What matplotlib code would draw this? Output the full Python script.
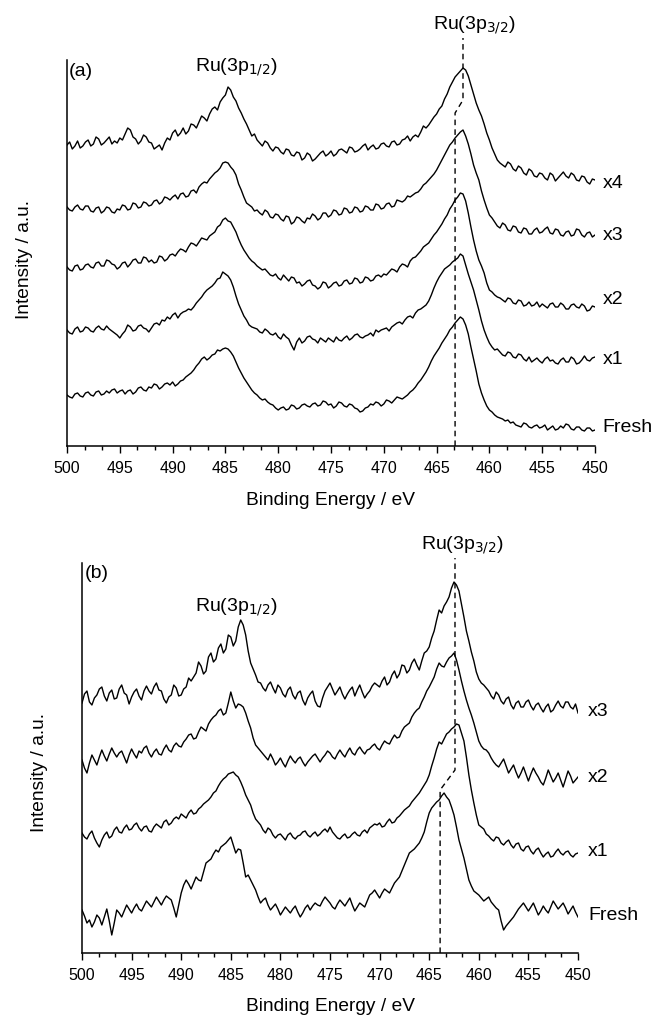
import numpy as np
import matplotlib
matplotlib.use("Agg")
import matplotlib.pyplot as plt
from matplotlib.ticker import MultipleLocator, AutoMinorLocator

plt.rcParams['font.family'] = ['Liberation Sans', 'DejaVu Sans']

# Binding energy grid (eV), 0.25 eV steps from 500 down to 450
energy = [500 - 0.25 * i for i in range(201)]

# ---------------- Panel (a): stacked spectra (a.u.) ----------------
a_x4 = [301, 304, 297, 300, 305, 298, 300, 304, 306, 300, 302, 309, 307, 301, 303, 306, 309, 302, 305, 303,
        308, 306, 312, 318, 316, 309, 307, 302, 305, 311, 309, 304, 303, 297, 299, 301, 296, 303, 308, 306,
        313, 316, 310, 313, 318, 312, 315, 322, 321, 318, 324, 330, 328, 325, 332, 337, 339, 336, 344, 348,
        351, 359, 356, 349, 345, 338, 333, 327, 322, 316, 310, 312, 306, 303, 300, 305, 303, 298, 295, 299,
        298, 294, 292, 297, 296, 291, 290, 294, 293, 286, 288, 293, 291, 285, 287, 290, 293, 295, 290, 292,
        295, 290, 292, 296, 297, 295, 293, 299, 298, 294, 295, 297, 300, 302, 296, 299, 301, 297, 298, 302,
        303, 300, 299, 304, 305, 301, 302, 306, 307, 310, 305, 309, 311, 309, 314, 320, 318, 321, 325, 329,
        332, 337, 340, 347, 352, 359, 364, 369, 372, 375, 378, 376, 370, 361, 352, 343, 336, 330, 322, 313,
        306, 298, 292, 286, 283, 281, 279, 284, 282, 277, 275, 280, 278, 273, 271, 277, 275, 270, 269, 273,
        272, 268, 266, 273, 271, 265, 268, 271, 274, 270, 268, 273, 271, 266, 265, 270, 269, 264, 262, 267,
        266]
a_x3 = [239, 236, 235, 239, 241, 237, 236, 240, 240, 235, 234, 238, 239, 233, 235, 239, 238, 234, 233, 237,
        236, 241, 240, 236, 237, 243, 242, 238, 239, 244, 243, 240, 241, 245, 246, 242, 244, 249, 248, 246,
        249, 251, 247, 252, 253, 249, 250, 255, 256, 253, 259, 262, 264, 263, 267, 270, 273, 275, 278, 283,
        284, 283, 279, 276, 271, 262, 256, 249, 243, 241, 239, 235, 236, 233, 231, 236, 234, 229, 228, 232,
        231, 227, 225, 230, 229, 222, 224, 229, 228, 225, 223, 228, 227, 232, 230, 226, 228, 233, 233, 229,
        231, 236, 235, 231, 232, 238, 237, 233, 234, 239, 238, 234, 235, 240, 239, 236, 236, 242, 241, 237,
        238, 242, 243, 239, 240, 246, 245, 244, 246, 250, 249, 251, 253, 254, 257, 261, 263, 266, 269, 272,
        276, 281, 286, 291, 296, 301, 304, 308, 311, 314, 316, 310, 302, 292, 281, 273, 266, 255, 246, 238,
        231, 228, 224, 220, 218, 223, 221, 216, 215, 220, 219, 214, 213, 218, 217, 212, 212, 216, 218, 213,
        214, 217, 219, 213, 212, 217, 216, 211, 210, 214, 215, 210, 211, 217, 216, 211, 209, 213, 214, 209,
        211]
a_x2 = [179, 176, 175, 180, 181, 176, 177, 181, 182, 179, 178, 183, 184, 180, 180, 186, 185, 182, 181, 177,
        179, 183, 184, 179, 182, 186, 187, 183, 183, 189, 188, 184, 186, 183, 184, 190, 189, 185, 187, 191,
        192, 190, 194, 197, 196, 194, 199, 203, 202, 200, 204, 208, 207, 206, 210, 212, 214, 219, 221, 226,
        228, 225, 224, 219, 214, 207, 201, 196, 192, 188, 185, 183, 180, 178, 176, 177, 174, 171, 170, 172,
        168, 166, 171, 168, 165, 169, 168, 163, 164, 160, 162, 165, 166, 161, 160, 157, 159, 164, 163, 158,
        160, 163, 164, 160, 161, 165, 166, 162, 163, 168, 167, 163, 164, 169, 168, 165, 166, 170, 171, 169,
        172, 171, 174, 177, 176, 174, 179, 182, 181, 179, 185, 188, 189, 192, 195, 199, 201, 203, 207, 211,
        214, 218, 222, 227, 231, 237, 241, 246, 249, 253, 252, 245, 233, 219, 206, 195, 186, 180, 173, 163,
        156, 154, 151, 149, 148, 146, 144, 148, 147, 143, 142, 146, 145, 140, 141, 144, 140, 141, 144, 139,
        142, 140, 138, 142, 143, 139, 139, 143, 141, 137, 137, 141, 142, 139, 138, 142, 140, 135, 136, 140,
        139]
a_x1 = [116, 113, 112, 117, 119, 114, 115, 119, 118, 115, 114, 118, 120, 117, 116, 120, 117, 115, 113, 111,
        108, 112, 115, 121, 119, 115, 116, 120, 121, 118, 117, 114, 118, 122, 123, 121, 126, 125, 129, 127,
        131, 133, 128, 132, 134, 135, 137, 136, 139, 143, 146, 149, 153, 156, 158, 160, 163, 167, 168, 174,
        172, 170, 166, 159, 150, 142, 136, 130, 126, 121, 119, 118, 117, 114, 113, 117, 115, 112, 111, 113,
        109, 107, 112, 109, 107, 101, 96, 104, 108, 103, 105, 109, 110, 107, 106, 103, 108, 106, 104, 108,
        106, 104, 109, 106, 105, 108, 110, 106, 108, 111, 112, 109, 108, 110, 111, 113, 110, 116, 114, 116,
        117, 118, 115, 119, 121, 123, 124, 122, 126, 129, 130, 128, 133, 136, 137, 139, 141, 145, 151, 158,
        164, 169, 173, 177, 179, 181, 184, 186, 188, 192, 190, 181, 172, 164, 156, 146, 136, 125, 116, 109,
        103, 99, 96, 97, 94, 91, 90, 94, 93, 89, 88, 92, 91, 87, 85, 89, 84, 86, 88, 85,
        83, 87, 89, 85, 86, 83, 82, 86, 88, 84, 84, 89, 87, 82, 83, 86, 90, 86, 85, 88,
        89]
a_fresh = [51, 49, 48, 52, 53, 50, 49, 53, 54, 51, 50, 54, 55, 51, 52, 55, 53, 56, 57, 53,
           55, 56, 52, 55, 56, 52, 54, 58, 59, 56, 55, 59, 58, 62, 61, 57, 59, 62, 63, 61,
           64, 60, 62, 65, 66, 69, 71, 73, 76, 80, 83, 87, 89, 86, 88, 91, 92, 96, 95, 97,
           98, 97, 94, 90, 84, 78, 73, 68, 64, 60, 56, 53, 51, 48, 46, 47, 44, 42, 41, 38,
           36, 38, 39, 36, 37, 41, 40, 37, 38, 41, 42, 40, 39, 42, 43, 40, 41, 45, 44, 41,
           42, 38, 40, 44, 43, 40, 39, 42, 41, 38, 37, 34, 35, 38, 39, 42, 41, 44, 43, 40,
           42, 46, 45, 43, 46, 49, 48, 47, 49, 51, 54, 56, 59, 63, 66, 70, 74, 79, 85, 90,
           94, 98, 103, 107, 111, 116, 119, 123, 126, 129, 127, 121, 112, 99, 87, 75, 62, 53, 46, 40,
           36, 34, 31, 29, 28, 27, 25, 26, 23, 24, 21, 20, 19, 23, 22, 19, 18, 20, 21, 18,
           19, 21, 16, 18, 20, 16, 17, 20, 18, 22, 21, 17, 16, 19, 19, 16, 15, 18, 18, 15,
           16]

# ---------------- Panel (b) ----------------
b_x3 = [250, 259, 262, 251, 248, 255, 258, 264, 266, 257, 252, 260, 263, 254, 255, 264, 268, 260, 258, 249,
        256, 261, 264, 257, 253, 262, 267, 262, 259, 266, 270, 263, 262, 254, 250, 256, 258, 268, 265, 257,
        258, 264, 266, 275, 272, 276, 280, 291, 287, 279, 282, 296, 300, 291, 294, 305, 309, 300, 304, 318,
        316, 307, 312, 326, 333, 328, 318, 302, 290, 284, 278, 271, 270, 265, 262, 268, 271, 265, 260, 268,
        265, 259, 256, 263, 266, 258, 254, 260, 262, 253, 248, 255, 259, 262, 252, 247, 246, 255, 262, 266,
        270, 264, 258, 262, 266, 259, 254, 259, 263, 266, 257, 263, 268, 261, 255, 259, 262, 267, 270, 268,
        266, 272, 276, 268, 271, 278, 282, 275, 279, 288, 287, 280, 283, 290, 294, 288, 283, 292, 300, 302,
        306, 315, 322, 333, 343, 340, 347, 351, 356, 365, 371, 368, 362, 349, 336, 322, 312, 301, 292, 281,
        274, 270, 268, 265, 262, 257, 254, 261, 258, 252, 249, 254, 256, 248, 244, 250, 252, 246, 246, 251,
        253, 247, 243, 248, 250, 245, 241, 246, 249, 241, 243, 248, 252, 247, 245, 251, 251, 246, 244, 249,
        240]
b_x2 = [193, 185, 180, 190, 198, 193, 188, 196, 203, 197, 192, 199, 205, 200, 196, 200, 202, 196, 190, 198,
        204, 199, 195, 202, 200, 205, 207, 200, 196, 201, 204, 199, 198, 204, 208, 203, 201, 207, 210, 207,
        206, 211, 214, 218, 219, 214, 215, 221, 226, 224, 222, 229, 233, 236, 238, 242, 244, 238, 240, 250,
        261, 252, 245, 249, 248, 246, 240, 232, 225, 215, 208, 205, 202, 199, 196, 193, 199, 194, 188, 191,
        195, 190, 186, 192, 197, 193, 190, 194, 196, 191, 187, 191, 194, 197, 199, 195, 191, 195, 198, 202,
        200, 196, 194, 199, 203, 199, 196, 201, 205, 200, 198, 203, 206, 202, 199, 203, 204, 207, 209, 205,
        203, 208, 212, 210, 209, 214, 218, 215, 216, 222, 226, 228, 230, 236, 240, 243, 245, 251, 256, 262,
        266, 271, 276, 284, 290, 287, 286, 291, 295, 297, 300, 293, 283, 272, 262, 253, 245, 238, 230, 221,
        212, 207, 204, 203, 200, 195, 191, 188, 186, 190, 194, 187, 180, 184, 188, 181, 175, 180, 186, 179,
        172, 179, 185, 180, 176, 171, 168, 175, 183, 177, 171, 175, 180, 173, 166, 174, 182, 177, 170, 173,
        176]
b_x1 = [120, 116, 114, 119, 122, 115, 110, 106, 113, 118, 121, 115, 117, 123, 126, 121, 120, 125, 128, 123,
        124, 128, 130, 125, 122, 126, 127, 122, 121, 126, 129, 127, 125, 131, 133, 128, 130, 134, 136, 134,
        139, 137, 135, 140, 143, 139, 140, 144, 146, 149, 151, 153, 156, 160, 162, 167, 171, 174, 176, 179,
        180, 181, 178, 176, 171, 165, 158, 153, 148, 140, 134, 131, 128, 123, 120, 125, 123, 118, 115, 118,
        119, 116, 113, 118, 120, 116, 114, 117, 118, 121, 122, 118, 116, 119, 121, 117, 119, 122, 124, 121,
        126, 121, 118, 115, 114, 117, 119, 115, 116, 119, 121, 118, 117, 121, 123, 120, 125, 127, 129, 128,
        130, 126, 127, 131, 134, 130, 131, 135, 137, 140, 143, 145, 147, 151, 154, 157, 160, 164, 168, 172,
        178, 187, 195, 204, 211, 209, 214, 219, 221, 224, 226, 229, 228, 220, 212, 196, 178, 163, 150, 138,
        128, 126, 124, 119, 117, 114, 112, 116, 115, 110, 108, 111, 113, 108, 105, 109, 110, 104, 102, 106,
        107, 102, 99, 103, 105, 100, 96, 99, 101, 96, 97, 101, 104, 100, 98, 101, 102, 98, 96, 99,
        100]
b_fresh = [43, 37, 30, 33, 26, 31, 38, 35, 28, 36, 44, 32, 18, 30, 43, 40, 36, 42, 48, 44,
           40, 45, 49, 44, 42, 47, 52, 49, 46, 51, 56, 52, 48, 53, 57, 55, 53, 45, 36, 48,
           60, 68, 73, 69, 64, 70, 76, 73, 72, 81, 90, 92, 94, 99, 103, 101, 106, 108, 110, 113,
           116, 108, 100, 104, 103, 90, 76, 78, 73, 68, 63, 56, 50, 53, 55, 48, 43, 46, 49, 44,
           38, 42, 46, 43, 40, 44, 47, 41, 36, 40, 45, 48, 43, 47, 50, 48, 47, 52, 56, 53,
           50, 46, 44, 49, 53, 50, 47, 51, 55, 48, 42, 46, 50, 48, 46, 52, 58, 60, 63, 59,
           55, 60, 64, 62, 60, 65, 70, 73, 76, 82, 88, 94, 100, 102, 104, 107, 110, 115, 121, 131,
           140, 145, 148, 151, 153, 157, 160, 156, 153, 146, 138, 126, 113, 104, 95, 84, 73, 67, 62, 60,
           58, 55, 52, 54, 56, 51, 48, 45, 43, 32, 23, 27, 30, 33, 36, 40, 44, 47, 50, 46,
           42, 46, 50, 44, 38, 42, 47, 43, 40, 46, 52, 48, 44, 47, 50, 45, 39, 43, 47, 41,
           36]

a_series = [a_x4, a_x3, a_x2, a_x1, a_fresh]
a_labels = ["x4", "x3", "x2", "x1", "Fresh"]
a_label_y = [263, 211, 146, 86, 18]

b_series = [b_x3, b_x2, b_x1, b_fresh]
b_labels = ["x3", "x2", "x1", "Fresh"]
b_label_y = [241, 175, 101, 38]

for s in a_series + b_series:
    assert len(s) == len(energy), [len(t) for t in a_series + b_series]

W, H = 657, 1019
fig = plt.figure(figsize=(W / 100, H / 100), dpi=100)

def px_axes(l, t, r, b):
    return fig.add_axes([l / W, 1 - b / H, (r - l) / W, (b - t) / H])

ax_a = px_axes(67, 60, 595, 446)
ax_b = px_axes(82, 563, 578, 953)

TICK_FS = 11.5
LAB_FS = 13.8
ANN_FS = 14

def style(ax, ymax, ylab_xy, xlab_y):
    ax.set_xlim(500, 450)
    ax.set_ylim(0, ymax)
    for s in ['top', 'right']:
        ax.spines[s].set_visible(False)
    for s in ['left', 'bottom']:
        ax.spines[s].set_linewidth(1.1)
    ax.set_yticks([])
    ax.xaxis.set_major_locator(MultipleLocator(5))
    ax.xaxis.set_minor_locator(AutoMinorLocator(3))
    ax.tick_params(axis='x', which='major', direction='out', length=5, width=1.0,
                   labelsize=TICK_FS, pad=6.0)
    ax.tick_params(axis='x', which='minor', direction='out', length=3, width=1.0)
    ax.set_xlabel("Binding Energy / eV", fontsize=LAB_FS)
    ax.xaxis.label.set_va('center')
    ax.xaxis.set_label_coords(0.5, xlab_y)
    ax.set_ylabel("Intensity / a.u.", fontsize=LAB_FS)
    ax.yaxis.label.set_va('center')
    ax.yaxis.set_label_coords(*ylab_xy)
    ax.patch.set_alpha(0)

style(ax_a, 386, (-0.0814, 0.482), -0.14)
style(ax_b, 390, (-0.0847, 0.464), -0.138)

for ys, lab, ly in zip(a_series, a_labels, a_label_y):
    ax_a.plot(energy, ys, color='black', lw=1.0)
    ax_a.text(449.3, ly, lab, fontsize=ANN_FS, ha='left', va='center', clip_on=False)

for ys, lab, ly in zip(b_series, b_labels, b_label_y):
    ax_b.plot(energy, ys, color='black', lw=1.0)
    ax_b.text(449.0, ly, lab, fontsize=ANN_FS, ha='left', va='center', clip_on=False)

# peak-position guide lines
ax_a.plot([463.25, 463.25, 462.5, 462.5], [0, 333, 346, 408], color='black', lw=1.0,
          ls=(0, (4, 3)), clip_on=False)
ax_b.plot([463.9, 463.9, 462.4, 462.4], [0, 163, 183, 395], color='black', lw=1.0,
          ls=(0, (4, 3)), clip_on=False)

ax_a.text(484.0, 379, r"Ru(3p$_{1/2}$)", fontsize=ANN_FS, ha='center', va='center')
ax_a.text(461.4, 421, r"Ru(3p$_{3/2}$)", fontsize=ANN_FS, ha='center', va='center', clip_on=False)
ax_a.text(499.8, 374, "(a)", fontsize=ANN_FS, ha='left', va='center')

ax_b.text(484.4, 346, r"Ru(3p$_{1/2}$)", fontsize=ANN_FS, ha='center', va='center')
ax_b.text(461.7, 408, r"Ru(3p$_{3/2}$)", fontsize=ANN_FS, ha='center', va='center', clip_on=False)
ax_b.text(499.7, 380, "(b)", fontsize=ANN_FS, ha='left', va='center')

fig.savefig("out.png", dpi=100)
